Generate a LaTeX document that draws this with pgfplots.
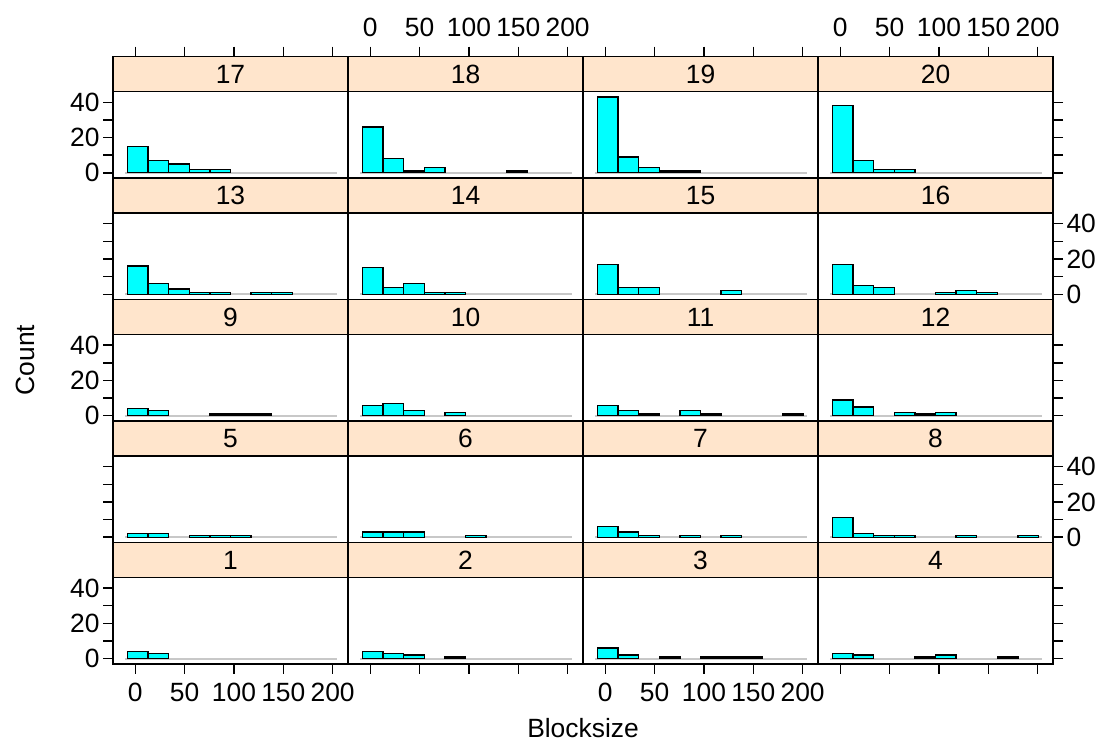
\documentclass[border=0pt]{standalone}
\usepackage{fontspec}
\setmainfont{Liberation Sans}
\usepackage{pgfplots}
\usepackage{pgfplotstable}
\pgfplotsset{compat=1.18}
\definecolor{stripcol}{HTML}{FFE5CC}
\definecolor{barfill}{HTML}{00FFFF}
\definecolor{basecol}{HTML}{C8C8C8}

\pgfplotstableread{
x      p1 p2 p3 p4 p5 p6 p7 p8 p9 p10 p11 p12 p13 p14 p15 p16 p17 p18 p19 p20
2.45   4  4  6  3  2  3  6  11 4  6   6   9   16  15  17  17  15  26  43  38
23.35  3  3  2  2  2  3  3  2  3  7   3   5   6   4   4   5   7   8   9   7
44.25  0  2  0  0  0  3  1  1  0  3   1   0   3   6   4   4   5   1   3   2
65.15  0  0  1  0  1  0  0  1  0  0   0   2   1   1   0   0   2   3   1   2
86.05  0  1  0  1  1  0  1  0  1  2   3   1   1   1   0   0   2   0   1   0
106.95 0  0  1  2  1  1  0  0  1  0   1   2   0   0   0   1   0   0   0   0
127.85 0  0  1  0  0  0  1  1  1  0   0   0   1   0   2   2   0   0   0   0
148.75 0  0  1  0  0  0  0  0  0  0   0   0   1   0   0   1   0   1   0   0
169.65 0  0  0  1  0  0  0  0  0  0   0   0   0   0   0   0   0   0   0   0
190.55 0  0  0  0  0  0  0  1  0  0   1   0   0   0   0   0   0   0   0   0
}\hist

\newcommand{\fs}{\fontsize{26.5}{30}\selectfont}

\pgfplotsset{
  panel/.style={scale only axis, width=235bp, height=121.45bp,
    xmin=-22.6, xmax=215.6, ymin=-3.01, ymax=65.856, anchor=south west,
    axis on top, axis line style={line width=1.4bp},
    tick align=outside, major tick length=10bp,
    tick style={black, line width=1.4bp},
    xtick={0,50,100,150,200}, ytick={0,10,20,30,40},
    tick label style={font=\fs},
    /pgf/number format/assume math mode=true},
  xbot/.style={xtick pos=left, xticklabel pos=left, xticklabel style={yshift=-6bp}},
  xtop/.style={xtick pos=right, xticklabel pos=right, xticklabel style={yshift=6bp}},
  xnone/.style={xtick=\empty},
  labx/.style={xticklabels={0,50,100,150,200}},
  nolabx/.style={xticklabels={,,,,}},
  yl/.style={ytick pos=left, yticklabel pos=left},
  yr/.style={ytick pos=right, yticklabel pos=right},
  ynone/.style={ytick=\empty},
  laby/.style={yticklabels={0,,20,,40}},
  nolaby/.style={yticklabels={,,,,}},
}

\newcommand{\panelbody}[2]{%
  \draw[basecol, line width=2.2bp] (axis cs:-10,0) -- (axis cs:204,0);
  \addplot[ybar, bar width=20.9, fill=barfill, draw=black, line width=1.3bp,
    restrict y to domain=0.5:100] table[x=x, y=#1] {\hist};
  \fill[stripcol] (rel axis cs:0,0.7118) rectangle (rel axis cs:1,1);
  \draw[black, line width=1.4bp] (rel axis cs:0,0.7118) -- (rel axis cs:1,0.7118);
  \node[font=\fs] at (rel axis cs:0.5,0.8559) {#2};
}

\begin{document}
\begin{tikzpicture}
\useasboundingbox (0,0) rectangle (1115bp,744bp);
% row 0 (top): 17-20
\begin{axis}[panel, at={(113bp,565.85bp)}, xtop, nolabx, yl, laby]\panelbody{p17}{17}\end{axis}
\begin{axis}[panel, at={(348bp,565.85bp)}, xtop, labx, ynone]\panelbody{p18}{18}\end{axis}
\begin{axis}[panel, at={(583bp,565.85bp)}, xtop, nolabx, ynone]\panelbody{p19}{19}\end{axis}
\begin{axis}[panel, at={(818bp,565.85bp)}, xtop, labx, yr, nolaby]\panelbody{p20}{20}\end{axis}
% row 1: 13-16
\begin{axis}[panel, at={(113bp,444.4bp)}, xnone, yl, nolaby]\panelbody{p13}{13}\end{axis}
\begin{axis}[panel, at={(348bp,444.4bp)}, xnone, ynone]\panelbody{p14}{14}\end{axis}
\begin{axis}[panel, at={(583bp,444.4bp)}, xnone, ynone]\panelbody{p15}{15}\end{axis}
\begin{axis}[panel, at={(818bp,444.4bp)}, xnone, yr, laby]\panelbody{p16}{16}\end{axis}
% row 2: 9-12
\begin{axis}[panel, at={(113bp,322.95bp)}, xnone, yl, laby]\panelbody{p9}{9}\end{axis}
\begin{axis}[panel, at={(348bp,322.95bp)}, xnone, ynone]\panelbody{p10}{10}\end{axis}
\begin{axis}[panel, at={(583bp,322.95bp)}, xnone, ynone]\panelbody{p11}{11}\end{axis}
\begin{axis}[panel, at={(818bp,322.95bp)}, xnone, yr, nolaby]\panelbody{p12}{12}\end{axis}
% row 3: 5-8
\begin{axis}[panel, at={(113bp,201.5bp)}, xnone, yl, nolaby]\panelbody{p5}{5}\end{axis}
\begin{axis}[panel, at={(348bp,201.5bp)}, xnone, ynone]\panelbody{p6}{6}\end{axis}
\begin{axis}[panel, at={(583bp,201.5bp)}, xnone, ynone]\panelbody{p7}{7}\end{axis}
\begin{axis}[panel, at={(818bp,201.5bp)}, xnone, yr, laby]\panelbody{p8}{8}\end{axis}
% row 4 (bottom): 1-4
\begin{axis}[panel, at={(113bp,80.05bp)}, xbot, labx, yl, laby]\panelbody{p1}{1}\end{axis}
\begin{axis}[panel, at={(348bp,80.05bp)}, xbot, nolabx, ynone]\panelbody{p2}{2}\end{axis}
\begin{axis}[panel, at={(583bp,80.05bp)}, xbot, labx, ynone]\panelbody{p3}{3}\end{axis}
\begin{axis}[panel, at={(818bp,80.05bp)}, xbot, nolabx, yr, nolaby]\panelbody{p4}{4}\end{axis}

\node[font=\fs, rotate=90] at (25bp,384bp) {Count};
\node[font=\fs] at (583bp,16bp) {Blocksize};
\end{tikzpicture}
\end{document}
